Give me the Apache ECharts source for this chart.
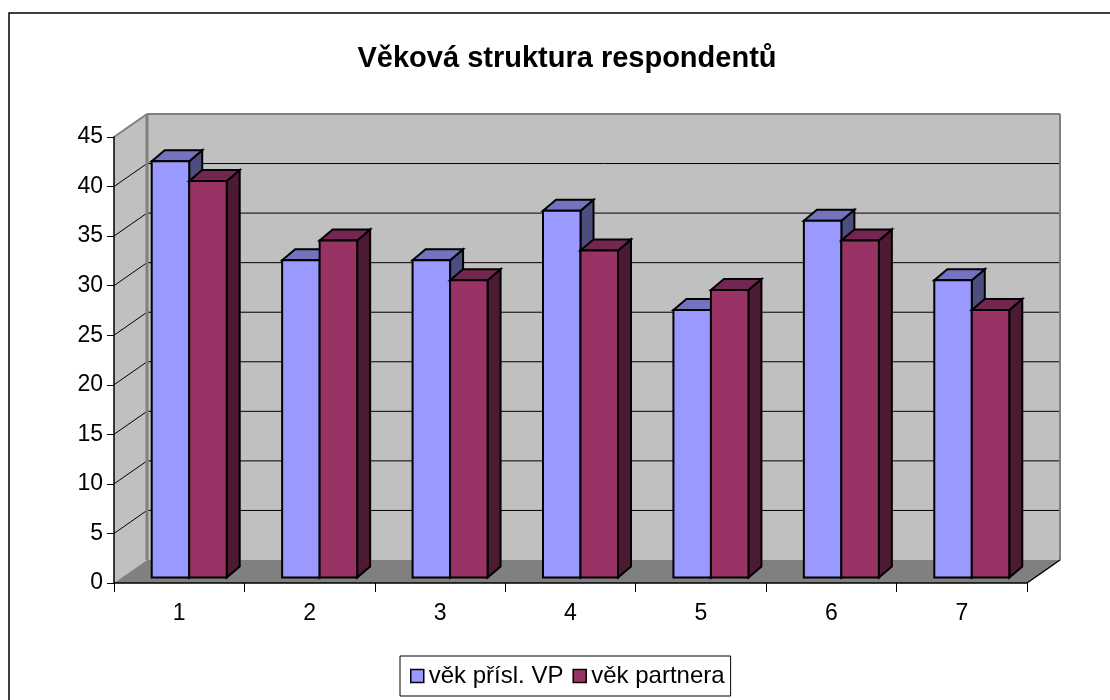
<!DOCTYPE html>
<html>
<head>
<meta charset="utf-8">
<style>
html, body { margin: 0; padding: 0; background: #fff; }
#main { width: 1110px; height: 700px; }
</style>
<script src="https://cdn.jsdelivr.net/npm/echarts@6/dist/echarts.min.js"></script>
</head>
<body>
<div id="main"></div>
<script>
var categories = ['1', '2', '3', '4', '5', '6', '7'];
var vekVP = [42, 32, 32, 37, 27, 36, 30];
var vekPartnera = [40, 34, 30, 33, 29, 34, 27];
var yTicks = [0, 5, 10, 15, 20, 25, 30, 35, 40, 45];

// hloubka 3D sceny v pixelech
var DX = 33, DY = -23;
var BAR_DX = 13, BAR_DY = -11;
var BASE_DX = 10, BASE_DY = -5.5;
var BAR_W = 37.5;

function poly(points, fill, stroke, lw) {
    return {
        type: 'polygon',
        shape: { points: points },
        style: { fill: fill, stroke: stroke || null, lineWidth: lw || 0, lineJoin: 'miter' }
    };
}
function line(p1, p2, color, lw) {
    return {
        type: 'line',
        shape: { x1: p1[0], y1: p1[1], x2: p2[0], y2: p2[1] },
        style: { stroke: color, lineWidth: lw, fill: null }
    };
}

function renderWalls(params, api) {
    var rect = params.coordSys;
    var left = rect.x, right = rect.x + rect.width;
    var y0 = api.coord([0, 0])[1];
    var yTop = api.coord([0, 45])[1];
    var children = [];
    // zadni a bocni stena
    children.push(poly([[left + DX, yTop + DY], [right + DX, yTop + DY], [right + DX, y0 + DY], [left + DX, y0 + DY]], '#c0c0c0'));
    children.push(poly([[left, yTop], [left + DX, yTop + DY], [left + DX, y0 + DY], [left, y0]], '#c0c0c0'));
    // podlaha
    children.push(poly([[left, y0], [left + DX, y0 + DY], [right + DX, y0 + DY], [right, y0]], '#808080'));
    // mrizka
    for (var i = 1; i < yTicks.length - 1; i++) {
        var y = api.coord([0, yTicks[i]])[1];
        children.push(line([left, y], [left + DX, y + DY], '#000', 1));
        children.push(line([left + DX, y + DY], [right + DX, y + DY], '#000', 1));
    }
    // okraje sten
    children.push(line([left, yTop], [left + DX, yTop + DY], '#808080', 2));
    children.push(line([left + DX, yTop + DY], [right + DX, yTop + DY], '#808080', 2));
    children.push(line([left + DX, yTop + DY], [left + DX, y0 + DY], '#808080', 3));
    children.push(line([right + DX, yTop + DY], [right + DX, y0 + DY], '#808080', 2));
    children.push(line([right, y0], [right + DX, y0 + DY], '#000', 1.5));
    return { type: 'group', children: children };
}

function makeBar(front, top, side, offset) {
    return function (params, api) {
        var c = api.coord([api.value(0), api.value(1)]);
        var b = api.coord([api.value(0), 0]);
        var xc = c[0] + BASE_DX;
        var x0 = xc + offset * BAR_W;
        var x1 = x0 + BAR_W;
        var yt = c[1] + BASE_DY;
        var yb = b[1] + BASE_DY;
        return {
            type: 'group',
            children: [
                poly([[x1, yt], [x1 + BAR_DX, yt + BAR_DY], [x1 + BAR_DX, yb + BAR_DY], [x1, yb]], side, '#000', 2),
                poly([[x0, yt], [x0 + BAR_DX, yt + BAR_DY], [x1 + BAR_DX, yt + BAR_DY], [x1, yt]], top, '#000', 2),
                poly([[x0, yt], [x1, yt], [x1, yb], [x0, yb]], front, '#000', 2)
            ]
        };
    };
}

function barData(values) {
    var out = [];
    for (var i = 0; i < values.length; i++) {
        out.push([i, values[i]]);
    }
    return out;
}

var myChart = echarts.init(document.getElementById('main'));
var font = '"Liberation Sans", Arial, sans-serif';

var option = {
    animation: false,
    backgroundColor: '#fff',
    textStyle: { fontFamily: font },
    title: {
        text: 'Věková struktura respondentů',
        left: 562,
        top: 39,
        textAlign: 'center',
        textStyle: { fontFamily: font, fontSize: 29, fontWeight: 'bold', color: '#000' }
    },
    grid: { left: 114, right: 83, top: 137, bottom: 117 },
    xAxis: {
        type: 'category',
        data: categories,
        z: 5,
        axisLine: { lineStyle: { color: '#000', width: 1.5 } },
        axisTick: { show: true, alignWithLabel: false, length: 9, lineStyle: { color: '#000', width: 1 } },
        axisLabel: { color: '#000', fontFamily: font, fontSize: 23, margin: 19 },
        splitLine: { show: false }
    },
    yAxis: {
        type: 'value',
        min: 0,
        max: 45,
        interval: 5,
        z: 5,
        axisLine: { show: true, lineStyle: { color: '#000', width: 1.5 } },
        axisTick: { show: true, length: 7, lineStyle: { color: '#000', width: 1 } },
        axisLabel: { color: '#000', fontFamily: font, fontSize: 23, margin: 11 },
        splitLine: { show: false }
    },
    legend: {
        left: 400,
        top: 656,
        orient: 'horizontal',
        padding: [8, 6, 8, 10],
        itemGap: 9,
        itemWidth: 13,
        itemHeight: 13,
        borderColor: '#000',
        borderWidth: 1,
        backgroundColor: '#fff',
        data: [
            { name: 'věk přísl. VP', icon: 'rect' },
            { name: 'věk partnera', icon: 'rect' }
        ],
        itemStyle: { borderColor: '#000', borderWidth: 1.5 },
        textStyle: { color: '#000', fontFamily: font, fontSize: 24 }
    },
    series: [
        {
            name: 'steny',
            type: 'custom',
            silent: true,
            z: 1,
            data: [[0, 0]],
            renderItem: renderWalls
        },
        {
            name: 'věk přísl. VP',
            type: 'custom',
            z: 2,
            itemStyle: { color: '#9999ff' },
            data: barData(vekVP),
            renderItem: makeBar('#9999ff', '#7373bf', '#4d4d80', -1)
        },
        {
            name: 'věk partnera',
            type: 'custom',
            z: 3,
            itemStyle: { color: '#993366' },
            data: barData(vekPartnera),
            renderItem: makeBar('#993366', '#732650', '#4d1a33', 0)
        }
    ],
    graphic: [{
        type: 'rect',
        z: 0,
        silent: true,
        shape: { x: 9, y: 13, width: 1120, height: 720 },
        style: { fill: null, stroke: '#000', lineWidth: 1.5 }
    }]
};
myChart.setOption(option);
</script>
</body>
</html>
